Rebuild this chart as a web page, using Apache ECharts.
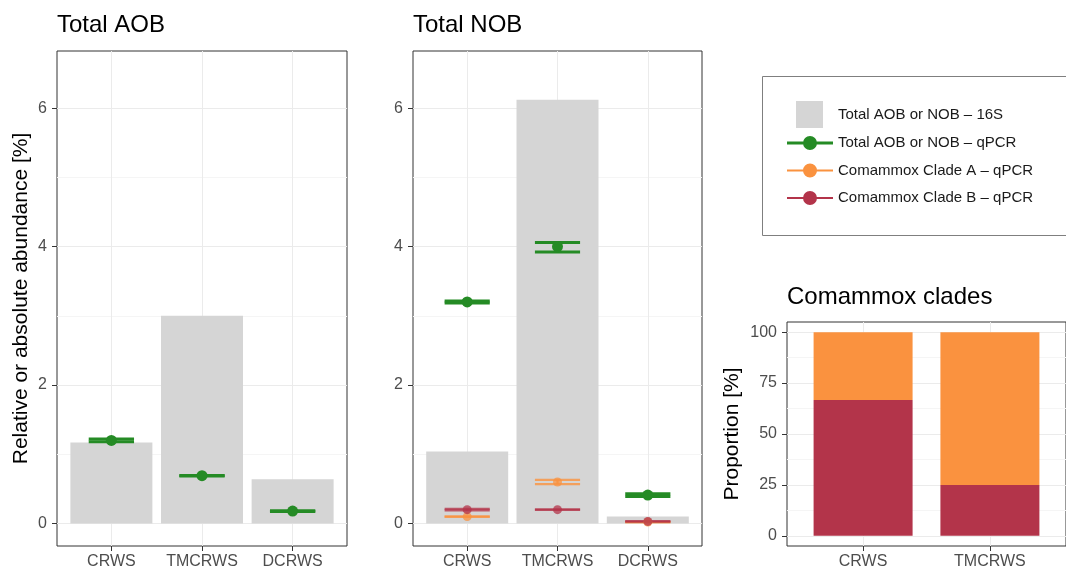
<!DOCTYPE html>
<html><head><meta charset="utf-8">
<script src="https://cdn.jsdelivr.net/npm/echarts@6/dist/echarts.min.js"></script>
<style>html,body{margin:0;padding:0;background:#fff}#chart{width:1066px;height:570px}</style>
</head><body><div id="chart"></div>
<script>
// ---- data ----
const categories = ['CRWS', 'TMCRWS', 'DCRWS'];
const aob16S = [1.17, 3.00, 0.64];
const aobQpcr = [1.20, 0.69, 0.18];
const aobQpcrLow = [1.18, 0.685, 0.175];
const aobQpcrHigh = [1.22, 0.695, 0.185];
const nob16S = [1.04, 6.12, 0.10];
const nobQpcr = [3.20, 4.00, 0.41];
const nobQpcrLow = [3.185, 3.92, 0.39];
const nobQpcrHigh = [3.215, 4.06, 0.43];
const cladeA = [0.10, 0.60, 0.02];
const cladeALow = [0.10, 0.57, 0.02];
const cladeAHigh = [0.10, 0.63, 0.02];
const cladeB = [0.20, 0.20, 0.03];
const cladeBLow = [0.19, 0.20, 0.03];
const cladeBHigh = [0.21, 0.20, 0.03];
const cladeCategories = ['CRWS', 'TMCRWS'];
const cladeBShare = [66.7, 25.0];
const cladeAShare = [33.3, 75.0];
const abundanceTicks = [0, 2, 4, 6];
const abundanceMinor = [1, 3, 5];
const shareTicks = [0, 25, 50, 75, 100];
const shareMinor = [12.5, 37.5, 62.5, 87.5];

const N16 = 'Total AOB or NOB – 16S';
const NQ = 'Total AOB or NOB – qPCR';
const NA = 'Comammox Clade A – qPCR';
const NB = 'Comammox Clade B – qPCR';

const GREEN = '#258b25', ORANGE = '#fa923f', RED = '#b3344a', GREY = '#d5d5d5';
const FONT = "'Liberation Sans', Arial, Helvetica, sans-serif";

const pos = arr => arr.map((v, i) => [i + 1, v]);
const posYFirst = arr => arr.map((v, i) => [v, i + 1]);
const eb = (m, lo, hi) => m.map((v, i) => [i + 1, v, lo[i], hi[i]]);

function errorBarRender(widthUnits, color, lw, opacity) {
  return function (params, api) {
    const x = api.value(0), lo = api.value(2), hi = api.value(3);
    const w = Math.abs(api.size([widthUnits, 0])[0]);
    const pl = api.coord([x, lo]), ph = api.coord([x, hi]);
    const st = { stroke: color, lineWidth: lw, opacity: opacity };
    return { type: 'group', children: [
      { type: 'line', shape: { x1: pl[0] - w / 2, y1: pl[1], x2: pl[0] + w / 2, y2: pl[1] }, style: st },
      { type: 'line', shape: { x1: ph[0] - w / 2, y1: ph[1], x2: ph[0] + w / 2, y2: ph[1] }, style: st },
      { type: 'line', shape: { x1: pl[0], y1: pl[1], x2: ph[0], y2: ph[1] }, style: st }
    ]};
  };
}

function xAx(gridIndex, names) {
  const vals = names.map((_, i) => i + 1);
  return {
    type: 'value', gridIndex, min: 0.4, max: names.length + 0.6,
    axisLine: { show: false, onZero: false },
    axisTick: { show: true, customValues: vals, length: 5, lineStyle: { color: '#333' } },
    axisLabel: { customValues: vals, formatter: v => names[Math.round(v) - 1], color: '#4d4d4d', fontSize: 16, margin: 8, fontFamily: FONT },
    splitLine: { show: true, lineStyle: { color: '#ebebeb', width: 1 } }
  };
}
function yAx(gridIndex, min, max, ticks, extra) {
  return Object.assign({
    type: 'value', gridIndex, min, max,
    axisLine: { show: false, onZero: false },
    axisTick: { show: true, customValues: ticks, length: 5, lineStyle: { color: '#333' } },
    axisLabel: { customValues: ticks, color: '#4d4d4d', fontSize: 16, margin: 10, fontFamily: FONT },
    splitLine: { show: true, lineStyle: { color: '#ebebeb', width: 1 } }
  }, extra || {});
}
function yMinor(gridIndex, min, max, ticks) {
  return {
    type: 'value', gridIndex, min, max, position: 'right',
    axisLine: { show: false, onZero: false },
    axisTick: { show: false, customValues: ticks },
    axisLabel: { show: false, customValues: ticks },
    splitLine: { show: true, lineStyle: { color: '#f5f5f5', width: 1 } }
  };
}

const ABMIN = -0.325, ABMAX = 6.825;
const nameStyle = { fontSize: 21, color: '#000', fontFamily: FONT };

const lineIcon = 'path://M0,5.5H46V8.5H0Z M16,7A7,7 0 1 1 30,7A7,7 0 1 1 16,7Z';
const thinIcon = 'path://M0,6H46V8H0Z M16,7A7,7 0 1 1 30,7A7,7 0 1 1 16,7Z';

const option = {
  animation: false,
  textStyle: { fontFamily: FONT },
  title: [
    { text: 'Total AOB', left: 57, top: 13, padding: 0, textStyle: { fontSize: 24, fontWeight: 'normal', color: '#000', lineHeight: 24, fontFamily: FONT } },
    { text: 'Total NOB', left: 413, top: 13, padding: 0, textStyle: { fontSize: 24, fontWeight: 'normal', color: '#000', lineHeight: 24, fontFamily: FONT } },
    { text: 'Comammox clades', left: 787, top: 285, padding: 0, textStyle: { fontSize: 24, fontWeight: 'normal', color: '#000', lineHeight: 24, fontFamily: FONT } }
  ],
  grid: [
    { left: 57, top: 51, width: 290, height: 496, show: true, borderColor: '#333', borderWidth: 1, backgroundColor: 'transparent' },
    { left: 413, top: 51, width: 289, height: 496, show: true, borderColor: '#333', borderWidth: 1, backgroundColor: 'transparent' },
    { left: 787, top: 322, width: 291, height: 225, show: true, borderColor: '#333', borderWidth: 1, backgroundColor: 'transparent' }
  ],
  xAxis: [xAx(0, categories), xAx(1, categories), xAx(2, cladeCategories)],
  yAxis: [
    yAx(0, ABMIN, ABMAX, abundanceTicks, { name: 'Relative or absolute abundance [%]', nameLocation: 'middle', nameGap: 25, nameTextStyle: nameStyle }),
    yMinor(0, ABMIN, ABMAX, abundanceMinor),
    yAx(1, ABMIN, ABMAX, abundanceTicks),
    yMinor(1, ABMIN, ABMAX, abundanceMinor),
    yAx(2, -5, 105, shareTicks, { name: 'Proportion [%]', nameLocation: 'middle', nameGap: 44, nameTextStyle: nameStyle }),
    yMinor(2, -5, 105, shareMinor)
  ],
  legend: [
    { left: 796, top: 101, orient: 'vertical', padding: 0, itemWidth: 27, itemHeight: 27, selectedMode: false,
      data: [{ name: N16, icon: 'rect', itemStyle: { color: GREY } }],
      textStyle: { fontSize: 15, color: '#1a1a1a', padding: [0, 0, 0, 10], fontFamily: FONT } },
    { left: 787, top: 135, orient: 'vertical', padding: 0, itemWidth: 46, itemHeight: 14, itemGap: 11.5, selectedMode: false,
      data: [
        { name: NQ, icon: lineIcon, itemStyle: { color: GREEN, opacity: 1 } },
        { name: NA, icon: thinIcon, itemStyle: { color: ORANGE, opacity: 1 } },
        { name: NB, icon: thinIcon, itemStyle: { color: RED, opacity: 1 } }
      ],
      textStyle: { fontSize: 15, lineHeight: 16, color: '#1a1a1a', fontFamily: FONT } }
  ],
  graphic: [
    { type: 'rect', shape: { x: 762.5, y: 76.5, width: 330, height: 159 }, style: { fill: 'none', stroke: '#7f7f7f', lineWidth: 1 }, z: -1 }
  ],
  series: [
    // AOB panel
    { name: N16, type: 'bar', xAxisIndex: 0, yAxisIndex: 0, data: pos(aob16S), barWidth: 82, itemStyle: { color: GREY }, z: 2 },
    { name: NQ, type: 'custom', xAxisIndex: 0, yAxisIndex: 0, data: eb(aobQpcr, aobQpcrLow, aobQpcrHigh),
      encode: { x: 0, y: [1, 2, 3] }, renderItem: errorBarRender(0.5, GREEN, 3, 1), itemStyle: { color: GREEN }, z: 3 },
    { name: NQ, type: 'scatter', xAxisIndex: 0, yAxisIndex: 0, data: pos(aobQpcr), symbolSize: 11, itemStyle: { color: GREEN, opacity: 1 }, z: 4 },
    // NOB panel
    { name: N16, type: 'bar', xAxisIndex: 1, yAxisIndex: 2, data: pos(nob16S), barWidth: 82, itemStyle: { color: GREY }, z: 2 },
    { name: NQ, type: 'custom', xAxisIndex: 1, yAxisIndex: 2, data: eb(nobQpcr, nobQpcrLow, nobQpcrHigh),
      encode: { x: 0, y: [1, 2, 3] }, renderItem: errorBarRender(0.5, GREEN, 3, 1), itemStyle: { color: GREEN }, z: 3 },
    { name: NA, type: 'custom', xAxisIndex: 1, yAxisIndex: 2, data: eb(cladeA, cladeALow, cladeAHigh),
      encode: { x: 0, y: [1, 2, 3] }, renderItem: errorBarRender(0.5, ORANGE, 2.2, 0.8), itemStyle: { color: ORANGE }, z: 3 },
    { name: NB, type: 'custom', xAxisIndex: 1, yAxisIndex: 2, data: eb(cladeB, cladeBLow, cladeBHigh),
      encode: { x: 0, y: [1, 2, 3] }, renderItem: errorBarRender(0.5, RED, 2.2, 0.8), itemStyle: { color: RED }, z: 3 },
    { name: NQ, type: 'scatter', xAxisIndex: 1, yAxisIndex: 2, data: pos(nobQpcr), symbolSize: 11, itemStyle: { color: GREEN, opacity: 1 }, z: 4 },
    { name: NA, type: 'scatter', xAxisIndex: 1, yAxisIndex: 2, data: pos(cladeA), symbolSize: 9, itemStyle: { color: ORANGE, opacity: 0.75 }, z: 4 },
    { name: NB, type: 'scatter', xAxisIndex: 1, yAxisIndex: 2, data: pos(cladeB), symbolSize: 9, itemStyle: { color: RED, opacity: 0.75 }, z: 4 },
    // Comammox clades panel (value first so the stack runs on y)
    { name: 'Clade B share', type: 'bar', stack: 'share', xAxisIndex: 2, yAxisIndex: 4, data: posYFirst(cladeBShare),
      encode: { x: 1, y: 0 }, barWidth: 99, itemStyle: { color: RED }, z: 2 },
    { name: 'Clade A share', type: 'bar', stack: 'share', xAxisIndex: 2, yAxisIndex: 4, data: posYFirst(cladeAShare),
      encode: { x: 1, y: 0 }, barWidth: 99, itemStyle: { color: ORANGE }, z: 2 }
  ]
};

const chart = echarts.init(document.getElementById('chart'), null, { renderer: 'canvas' });
chart.setOption(option);
</script>
</body></html>
